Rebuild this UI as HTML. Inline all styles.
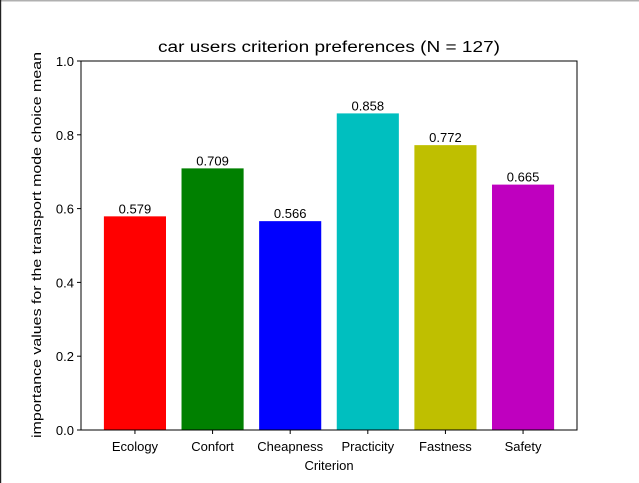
<!DOCTYPE html>
<html><head><meta charset="utf-8"><style>
html,body{margin:0;padding:0;background:#fff;}
svg{display:block;font-family:"Liberation Sans","DejaVu Sans",sans-serif;}
</style></head><body>
<svg id="chart" width="639" height="483" viewBox="0 0 639 483">
<rect x="0" y="0" width="639" height="483" fill="#fff"/>
<rect x="0" y="0" width="639" height="1.5" fill="#b0b0b0"/>
<rect x="0" y="0" width="1.2" height="483" fill="#222"/>
<text x="329" y="52" font-size="15.5" text-anchor="middle" textLength="342" lengthAdjust="spacingAndGlyphs">car users criterion preferences (N = 127)</text>
<text x="329" y="470" font-size="13" text-anchor="middle">Criterion</text>
<text transform="translate(41,245) rotate(-90)" font-size="13" text-anchor="middle" textLength="386" lengthAdjust="spacingAndGlyphs">importance values for the transport mode choice mean</text>
<g id="bars"></g><g id="ticks"></g>
<rect x="81" y="61" width="496" height="369" fill="none" stroke="#000" stroke-width="1"/>
</svg>
<script>
const categories=["Ecology","Confort","Cheapness","Practicity","Fastness","Safety"];
const values=[0.579,0.709,0.566,0.858,0.772,0.665];
const colors=["#ff0000","#008000","#0000ff","#00bfbf","#bfbf00","#bf00bf"];
const yTicks=[0,0.2,0.4,0.6,0.8,1.0];
const yTickLabels=["0.0","0.2","0.4","0.6","0.8","1.0"];
const NS="http://www.w3.org/2000/svg";
const L=81,R=577,T=61,B=430;
const n=categories.length;
const x0=-0.695, x1=n-1+0.695;
function xs(i){return L+(i-x0)/(x1-x0)*(R-L);}
function ys(v){return B-v*(B-T);}
const bw=0.8*(R-L)/(x1-x0);
const gb=document.getElementById('bars'),gt=document.getElementById('ticks');
function mk(tag,attrs,parent){const e=document.createElementNS(NS,tag);for(const k in attrs)e.setAttribute(k,attrs[k]);parent.appendChild(e);return e;}
categories.forEach((c,i)=>{
  const cx=xs(i),v=values[i];
  const r=mk('rect',{x:cx-bw/2,y:ys(v),width:bw,height:B-ys(v),fill:colors[i]},gb);
  
  
  const t=mk('text',{x:cx,y:ys(v)-3,'font-size':13,'text-anchor':'middle'},gb);
  t.textContent=v.toFixed(3);
  
  
  const tk=mk('line',{x1:cx,x2:cx,y1:B,y2:B+4,stroke:'#000'},gt);
  
  
  const tl=mk('text',{x:cx,y:B+21,'font-size':13,'text-anchor':'middle'},gt);
  tl.textContent=c;
  
  
});
yTicks.forEach((v,i)=>{
  const y=ys(v);
  const tk=mk('line',{x1:L-4,x2:L,y1:y,y2:y,stroke:'#000'},gt);
  
  
  const tl=mk('text',{x:L-7,y:y+5,'font-size':13,'text-anchor':'end'},gt);
  tl.textContent=yTickLabels[i];
  
  
});
</script>
</body></html>
